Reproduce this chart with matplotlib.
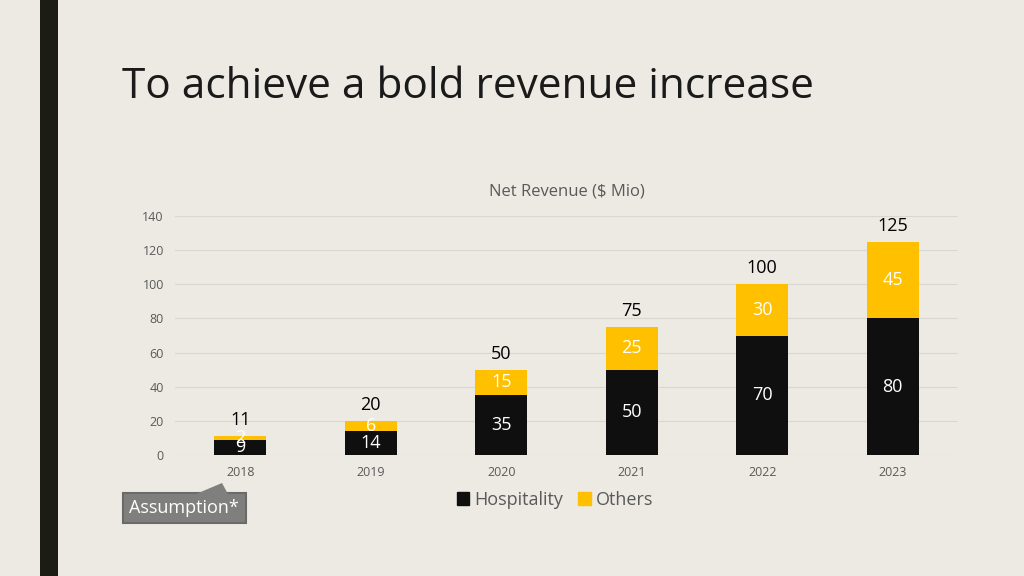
import matplotlib
matplotlib.use("Agg")
import matplotlib.pyplot as plt
from matplotlib.patches import Rectangle, Polygon, Patch

years = ["2018", "2019", "2020", "2021", "2022", "2023"]
hospitality = [9, 14, 35, 50, 70, 80]
others = [2, 6, 15, 25, 30, 45]
totals = [11, 20, 50, 75, 100, 125]
yticks = [0, 20, 40, 60, 80, 100, 120, 140]

BG = "#ECEAE3"
BLACK = "#0F0F0F"
YELLOW = "#FFC000"

plt.rcParams['font.family'] = ['Open Sans', 'DejaVu Sans']

fig = plt.figure(figsize=(10.24, 5.76), dpi=100)
fig.patch.set_facecolor(BG)

# left dark bar
fig.patches.append(Rectangle((40/1024, 0), 18/1024, 1, transform=fig.transFigure,
                             facecolor="#1C1C14", edgecolor="none"))

fig.text(122/1024, 1 - 87/576, "To achieve a bold revenue increase", fontsize=30.5,
         color="#1A1A1A", va="center", ha="left")

ax = fig.add_axes([175/1024, 1 - 455/576, (958-175)/1024, (455-216)/576])
ax.set_facecolor(BG)
x = list(range(len(years)))
w = 0.4
ax.bar(x, hospitality, width=w, color=BLACK, zorder=3)
ax.bar(x, others, width=w, bottom=hospitality, color=YELLOW, zorder=3)

ax.set_ylim(0, 140)
ax.set_xlim(-0.5, len(years) - 0.5)
ax.set_yticks(yticks)
ax.set_xticks(x)
ax.set_xticklabels(years)
ax.tick_params(axis='both', length=0, labelsize=9, colors="#595959", pad=8)
ax.grid(axis='y', color="#D9D7D0", linewidth=0.8, zorder=0)
for s in ax.spines.values():
    s.set_visible(False)

for i in x:
    ax.text(i, hospitality[i] / 2, str(hospitality[i]), ha='center', va='center',
            color='white', fontsize=13, zorder=4)
    ax.text(i, hospitality[i] + others[i] / 2, str(others[i]), ha='center', va='center',
            color='white', fontsize=13, zorder=4)
    ax.text(i, totals[i] + 4, str(totals[i]), ha='center', va='bottom',
            color='black', fontsize=13, zorder=4)

ax.set_title("Net Revenue ($ Mio)", fontsize=12, color="#595959", pad=15)

# legend
handles = [Patch(color=BLACK, label="Hospitality"), Patch(color=YELLOW, label="Others")]
fig.legend(handles=handles, loc='center', bbox_to_anchor=(555/1024, 1 - 500/576), ncol=2,
           frameon=False, fontsize=13, handlelength=0.7, handleheight=0.7,
           handletextpad=0.3, columnspacing=0.8, labelcolor="#595959")

# callout box
fig.patches.append(Polygon([(123/1024, 1-493/576), (246/1024, 1-493/576),
                            (246/1024, 1-523/576), (123/1024, 1-523/576)],
                           closed=True, transform=fig.transFigure, facecolor="#7F7F7D",
                           edgecolor="#6A6A68", linewidth=1.5))
fig.patches.append(Polygon([(196/1024, 1-494/576), (222/1024, 1-483/576), (228/1024, 1-494/576)],
                           closed=True, transform=fig.transFigure, facecolor="#7F7F7D",
                           edgecolor="none"))
fig.text(184/1024, 1 - 508/576, "Assumption*", fontsize=13, color="white", ha='center', va='center')

fig.savefig("out.png", dpi=100, facecolor=BG)
